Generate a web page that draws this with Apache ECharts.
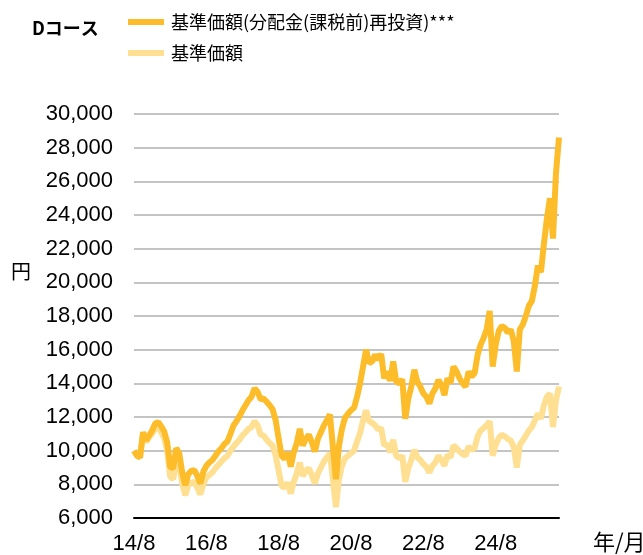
<!DOCTYPE html>
<html lang="ja">
<head>
    <meta charset="UTF-8">
    <title>Dコース</title>
    <script src="https://cdn.jsdelivr.net/npm/echarts@6/dist/echarts.min.js"></script>
</head>
<body style="margin:0;">
<div id="chartmain" style="width:643px; height:555px;"></div>
<script type="text/javascript">

    // 月次 (14/8 ～ 26/5)
    var startYear = 14, startMonth = 8, monthCount = 142;
    var xTickLabels = ['14/8', '16/8', '18/8', '20/8', '22/8', '24/8'];
    var yTicks = [6000, 30000, 2000];   // min, max, interval

    // 基準価額（分配金（課税前）再投資）
    var reinvested = [
        10000, 9700, 9600, 11100, 10600, 10900, 11200, 11600, 11700, 11450, 11150, 10500,
        9050, 8950, 10150, 9850, 8700, 7950, 8600, 8800, 8850, 8500, 8050, 8750,
        9100, 9300, 9450, 9700, 9950, 10150, 10400, 10550, 11000, 11500, 11750, 12050,
        12400, 12700, 13000, 13200, 13700, 13500, 13050, 13100, 12900, 12700, 12450, 11800,
        10700, 9700, 9500, 9900, 9050, 9900, 10450, 11300, 10300, 10700, 10950, 10500,
        9950, 10700, 11100, 11500, 11800, 12150, 10200, 8300, 10300, 11300, 11950, 12200,
        12400, 12550, 13200, 14000, 15000, 16000, 15200, 15300, 15700, 15400, 15750, 14300,
        14700, 14150, 15300, 14100, 14000, 14250, 11900, 13100, 13800, 14800, 14100, 13800,
        13400, 13200, 12800, 13400, 13700, 14200, 13900, 13300, 14300, 14000, 15000, 14700,
        14300, 14000, 13800, 14700, 14400, 14600, 15700, 16300, 16700, 17200, 18300, 15000,
        16300, 17100, 17400, 17300, 17000, 17200, 16500, 14700, 17200, 17500, 18000, 18600,
        18900, 19800, 21000, 20600, 22300, 23800, 25000, 22600, 26500, 28600
    ];

    // 基準価額
    var nav = [
        10000, 9700, 9600, 11000, 10500, 10800, 11000, 11300, 11400, 11100, 10750, 10000,
        8450, 8300, 9450, 9150, 8050, 7350, 7950, 8100, 8150, 7800, 7400, 8000,
        8400, 8550, 8700, 8950, 9150, 9350, 9550, 9700, 10000, 10250, 10450, 10650,
        10900, 11100, 11300, 11400, 11750, 11500, 10950, 10900, 10650, 10450, 10300, 9700,
        8800, 7900, 7800, 8100, 7450, 8150, 8650, 9300, 8500, 8800, 8950, 8550,
        8050, 8650, 9000, 9350, 9600, 9850, 8250, 6650, 8300, 9100, 9550, 9700,
        9850, 10000, 10550, 11050, 11800, 12400, 11750, 11650, 11500, 11250, 11350, 10300,
        10400, 9900, 10650, 9700, 9550, 9700, 8150, 8950, 9450, 10050, 9600, 9450,
        9200, 9050, 8700, 9100, 9300, 9700, 9450, 9100, 9750, 9600, 10300, 10150,
        9950, 9800, 9700, 10250, 10050, 10150, 10850, 11200, 11350, 11500, 11750, 9700,
        10350, 10750, 10950, 10850, 10700, 10600, 10200, 9000, 10350, 10600, 10900, 11200,
        11400, 11800, 12200, 11900, 12700, 13200, 13400, 11400, 13000, 13800
    ];

    var months = [];
    for (var i = 0; i < monthCount; i++) {
        var mm = startMonth - 1 + i;
        months.push((startYear + Math.floor(mm / 12)) + '/' + (mm % 12 + 1));
    }

    var mainColor = '#FDBC2A';
    var lightColor = '#FFDF92';
    var numFont = 'Liberation Sans';
    var jpFont = 'Noto Sans CJK JP';

    var option = {
        animation: false,
        title: {
            text: 'Dコース',
            left: 32,
            top: 17,
            padding: 0,
            textStyle: { fontFamily: jpFont, fontSize: 18, fontWeight: 'bold', color: '#000', lineHeight: 22 }
        },
        legend: {
            orient: 'vertical',
            left: 128,
            top: 11,
            padding: 0,
            itemWidth: 36,
            itemHeight: 6,
            itemGap: 9,
            icon: 'rect',
            data: ['基準価額(分配金(課税前)再投資)***', '基準価額'],
            textStyle: { fontFamily: jpFont, fontSize: 18, color: '#000', lineHeight: 22, padding: [0, 0, 0, 2] }
        },
        grid: { left: 134, right: 84, top: 114, bottom: 37 },
        xAxis: {
            type: 'category',
            data: months,
            boundaryGap: false,
            axisLine: { lineStyle: { color: '#000', width: 2 } },
            axisTick: { show: false },
            axisLabel: {
                interval: function (idx, val) { return xTickLabels.indexOf(val) >= 0; },
                margin: 15,
                fontFamily: numFont,
                fontSize: 22,
                color: '#000'
            },
            splitLine: { show: false }
        },
        yAxis: {
            type: 'value',
            min: yTicks[0],
            max: yTicks[1],
            interval: yTicks[2],
            axisLine: { show: false },
            axisTick: { show: false },
            axisLabel: {
                margin: 21,
                fontFamily: numFont,
                fontSize: 22,
                color: '#000',
                formatter: function (v) { return v.toLocaleString('en-US'); }
            },
            splitLine: { lineStyle: { color: '#C4C4C4', width: 2 } }
        },
        graphic: [
            { type: 'text', left: 11, top: 261, style: { text: '円', font: '20px "Noto Sans CJK JP"', fill: '#000' } },
            { type: 'text', left: 593, top: 531, style: { text: '年/月', font: '22px "Noto Sans CJK JP"', fill: '#000' } }
        ],
        series: [
            {
                name: '基準価額',
                type: 'line',
                data: nav,
                showSymbol: false,
                color: lightColor,
                lineStyle: { width: 6, color: lightColor },
                z: 2
            },
            {
                name: '基準価額(分配金(課税前)再投資)***',
                type: 'line',
                data: reinvested,
                showSymbol: false,
                color: mainColor,
                lineStyle: { width: 6, color: mainColor },
                z: 3
            }
        ]
    };

    var myChart = echarts.init(document.getElementById('chartmain'));
    myChart.setOption(option);

</script>
</body>
</html>
